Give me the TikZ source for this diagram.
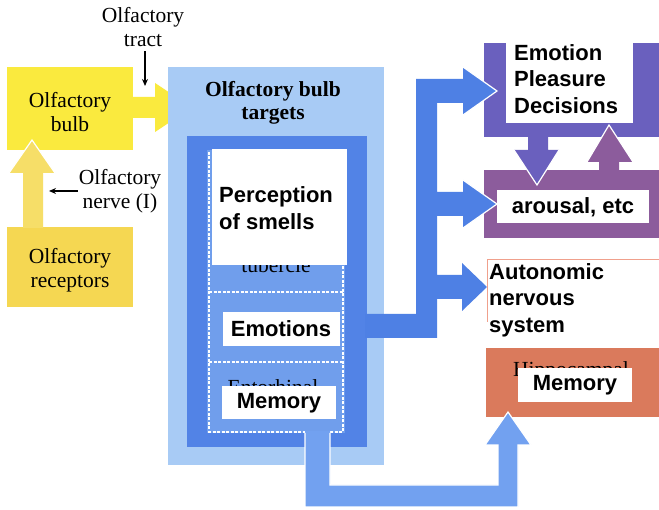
\documentclass[tikz,border=0pt]{standalone}
\usepackage{fontspec}
\setmainfont{Liberation Serif}
\newfontfamily\labelsans{Liberation Sans}
\usetikzlibrary{arrows.meta}

\definecolor{bulbYellow}{RGB}{250,234,62}
\definecolor{recYellow}{RGB}{245,215,82}
\definecolor{nerveYellow}{RGB}{246,222,104}
\definecolor{targetBlue}{RGB}{168,203,245}
\definecolor{frameBlue}{RGB}{82,131,230}
\definecolor{roomBlue}{RGB}{112,158,236}
\definecolor{pathBlue}{RGB}{114,161,240}
\definecolor{outBlue}{RGB}{78,128,228}
\definecolor{cortexPurple}{RGB}{106,96,190}
\definecolor{limbicMauve}{RGB}{140,92,156}
\definecolor{hippoOrange}{RGB}{218,122,92}
\definecolor{ansSalmon}{RGB}{240,160,140}

\begin{document}
\begin{tikzpicture}[x=1pt,y=-1pt,
  blk/.style={draw=none, inner sep=0, outer sep=0, anchor=north west},
  serif/.style={font=\fontsize{21.5}{24.5}\selectfont, align=center, inner sep=0},
  tag/.style={fill=white, draw=none, inner sep=0, outer sep=0, anchor=north west},
  tagtext/.style={font=\labelsans\bfseries\fontsize{22}{26.5}\selectfont, inner sep=0},
  pointer/.style={-{Stealth[length=7pt,width=6pt]}, line width=1.3pt},
  rim/.style={white, line width=1.2pt, line join=miter},
  roomline/.style={white, line width=1.1pt, dash pattern=on 3pt off 1.5pt},
]
\useasboundingbox (0,0) rectangle (659,510);
\fill[white] (0,0) rectangle (659,510);

% ---------- olfactory bulb side ----------
\node[blk, fill=bulbYellow, minimum width=126, minimum height=83] (bulb) at (7,67) {};
\node[blk, fill=recYellow, minimum width=126, minimum height=80] (receptors) at (7,227) {};

% bulb output arrow
\fill[bulbYellow] (130,97) -- (155,97) -- (155,83) -- (192,107.5) -- (155,132) -- (155,118) -- (130,118) -- cycle;

% nerve arrow from receptors into the bulb
\fill[nerveYellow] (23,228) -- (23,173) -- (9,173) -- (32,140) -- (55,173) -- (43,173) -- (43,228) -- cycle;
\draw[rim] (9,173) -- (32,140) -- (55,173);

\node[serif] (bulbtxt) at (70,112) {Olfactory\\bulb};
\node[serif] (rectxt) at (70,270) {Olfactory\\receptors};
\node[serif] (tract) at (143,27) {Olfactory\\tract};
\node[serif] (nerve) at (120,191) {Olfactory\\nerve (I)};

\coordinate (tractTip) at (145,86);
\coordinate (nerveTip) at (49,191);
\draw[pointer] (tractTip |- tract.south) ++(0,4) -- (tractTip);
\draw[pointer] (nerve.west) ++(-1,0) -- (nerveTip);

% ---------- bulb targets ----------
\node[blk, fill=targetBlue, minimum width=216, minimum height=398] (targets) at (168,67) {};
\node[serif, font=\bfseries\fontsize{21.5}{23}\selectfont] (targetstxt) at (273,103) {Olfactory bulb\\targets};
\node[blk, fill=frameBlue, minimum width=180, minimum height=311] (frame) at (187,136) {};
\node[blk, fill=roomBlue, minimum width=138, minimum height=283] (rooms) at (207,150) {};

\node[serif, anchor=base] (tubercle) at (276,273) {tubercle};
\node[serif, anchor=base] (entorhinal) at (273,395) {Entorhinal};

\draw[roomline] (209,152) -- (209,432) -- (305,432);
\draw[roomline] (330,432) -- (343,432) -- (343,152);
\draw[roomline] (209,292) -- (343,292);
\draw[roomline] (209,362) -- (343,362);

% ---------- cortical and limbic targets ----------
\node[blk, fill=cortexPurple, minimum width=175, minimum height=94] (cortex) at (484,43) {};
\node[blk, fill=limbicMauve, minimum width=175, minimum height=68] (arousal) at (484,170) {};
\node[blk, fill=hippoOrange, minimum width=173, minimum height=69] (hippo) at (486,348) {};
\draw[ansSalmon, line width=1pt] (487,322) -- (487,260) -- (659,260);
\node[serif, anchor=base] (hippotxt) at (571,377) {Hippocampal};

% cortex <-> limbic arrows
\fill[cortexPurple] (528,136) -- (548,136) -- (548,150) -- (559,150) -- (537,185) -- (514,150) -- (528,150) -- cycle;
\draw[rim] (559,150) -- (537,185) -- (514,150);
\fill[limbicMauve] (599,171) -- (599,162) -- (587,162) -- (609,125) -- (633,162) -- (619,162) -- (619,171) -- cycle;
\draw[rim] (587,162) -- (609,125) -- (633,162);

% outputs from the targets
\fill[outBlue] (365,338) -- (437,338) -- (437,299) -- (462,299) -- (462,311) -- (487,287) -- (462,263) -- (462,275)
  -- (437,275) -- (437,216) -- (463,216) -- (463,228) -- (497,204) -- (463,180) -- (463,192) -- (437,192)
  -- (437,103) -- (463,103) -- (463,115) -- (497,91) -- (463,67) -- (463,79) -- (416,79) -- (416,314) -- (365,314) -- cycle;
\draw[rim] (463,67) -- (497,91) -- (463,115);
\draw[rim] (463,180) -- (497,204) -- (463,228);

% entorhinal to hippocampus
\fill[pathBlue] (305,431) -- (305,507) -- (518,507) -- (518,445) -- (531,445) -- (508,412) -- (485,445) -- (498,445)
  -- (498,485) -- (330,485) -- (330,431) -- cycle;
\draw[rim] (330,433) -- (330,485) -- (498,485) -- (498,445) -- (485,445) -- (508,412) -- (531,445) -- (518,445)
  -- (518,507) -- (305,507) -- (305,433);

% ---------- white labels ----------
\node[tag, minimum width=135, minimum height=116] (perceptionTag) at (212,149) {};
\node[tagtext, align=left, anchor=west] (perception) at (219,208) {Perception\\of smells};
\node[tag, minimum width=117, minimum height=34] (emotionsTag) at (223,312) {};
\node[tagtext] (emotions) at (281,329) {Emotions};
\node[tag, minimum width=114, minimum height=33] (memoryTag) at (222,386) {};
\node[tagtext] (memory) at (279,403) {Memory};

\node[tag, minimum width=127, minimum height=86] (cortexTag) at (506,37) {};
\node[tagtext, align=left, anchor=west] (cortextxt) at (514,79) {Emotion\\Pleasure\\Decisions};
\node[tag, minimum width=152, minimum height=33] (arousalTag) at (497,190) {};
\node[tagtext] (arousaltxt) at (573,207) {arousal, etc};
\node[tagtext, align=left, anchor=west] (ans) at (489,300) {Autonomic\\nervous\\system};
\node[tag, minimum width=114, minimum height=34] (hippoTag) at (518,368) {};
\node[tagtext] (hippomem) at (575,385) {Memory};
\end{tikzpicture}
\end{document}
